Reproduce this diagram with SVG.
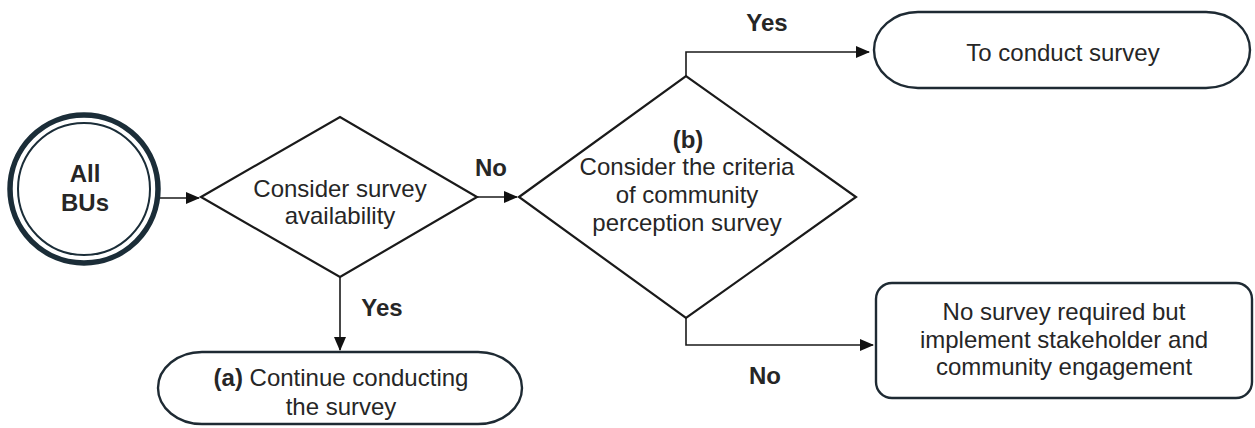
<svg xmlns="http://www.w3.org/2000/svg" width="1255" height="428" viewBox="0 0 1255 428">
<style>
.t{font-family:"Liberation Sans",Arial,sans-serif;font-size:24px;fill:#262626;text-anchor:middle}
.b{font-weight:bold}
.shape{fill:#fff;stroke:#1a1a1a;stroke-width:2.2}
.term{fill:#fff;stroke:#1e2a33;stroke-width:2.4}
.con{fill:none;stroke:#1a1a1a;stroke-width:1.6}
</style>
<defs>
<marker id="ah" markerWidth="14" markerHeight="12" refX="13" refY="6" orient="auto" markerUnits="userSpaceOnUse">
<path d="M0,0 L14,6 L0,12 Z" fill="#111"/>
</marker>
</defs>
<rect width="1255" height="428" fill="#fff"/>
<g id="connectors">
<line class="con" x1="160" y1="198" x2="199" y2="198" marker-end="url(#ah)"/>
<line class="con" x1="477" y1="197" x2="517" y2="197" marker-end="url(#ah)"/>
<line class="con" x1="340" y1="277" x2="340" y2="350" marker-end="url(#ah)"/>
<polyline class="con" points="686,76 686,52 869,52" marker-end="url(#ah)"/>
<polyline class="con" points="686,318 686,345 873,345" marker-end="url(#ah)"/>
<text class="t b" x="491" y="176">No</text>
<text class="t b" x="382" y="316">Yes</text>
<text class="t b" x="767" y="31">Yes</text>
<text class="t b" x="765" y="384">No</text>
</g>
<g id="start">
<circle cx="84" cy="189" r="74" fill="#fff" stroke="#1b2d38" stroke-width="5.5"/>
<circle cx="84" cy="189" r="66" fill="none" stroke="#1b2d38" stroke-width="2"/>
<text class="t b" x="85" y="182">All</text>
<text class="t b" x="85" y="211">BUs</text>
</g>
<g id="decision1">
<polygon class="shape" points="201,197 340,117 477,197 340,277"/>
<text class="t" x="340" y="197">Consider survey</text>
<text class="t" x="340" y="224">availability</text>
</g>
<g id="decision2">
<polygon class="shape" points="519,197 686,76 856,197 686,318"/>
<text class="t b" x="688" y="148">(b)</text>
<text class="t" x="687" y="175">Consider the criteria</text>
<text class="t" x="687" y="203">of community</text>
<text class="t" x="687" y="231">perception survey</text>
</g>
<g id="conduct">
<rect class="term" x="874" y="12" width="376" height="76" rx="44" ry="38"/>
<text class="t" x="1063" y="61">To conduct survey</text>
</g>
<g id="nosurvey">
<rect class="term" x="876" y="283" width="376" height="115" rx="16" ry="16"/>
<text class="t" x="1064" y="320">No survey required but</text>
<text class="t" x="1064" y="348">implement stakeholder and</text>
<text class="t" x="1064" y="375">community engagement</text>
</g>
<g id="continue">
<rect class="term" x="158" y="352" width="364" height="72" rx="44" ry="36"/>
<text class="t" x="341" y="386"><tspan class="b">(a)</tspan> Continue conducting</text>
<text class="t" x="341" y="415">the survey</text>
</g>
</svg>
